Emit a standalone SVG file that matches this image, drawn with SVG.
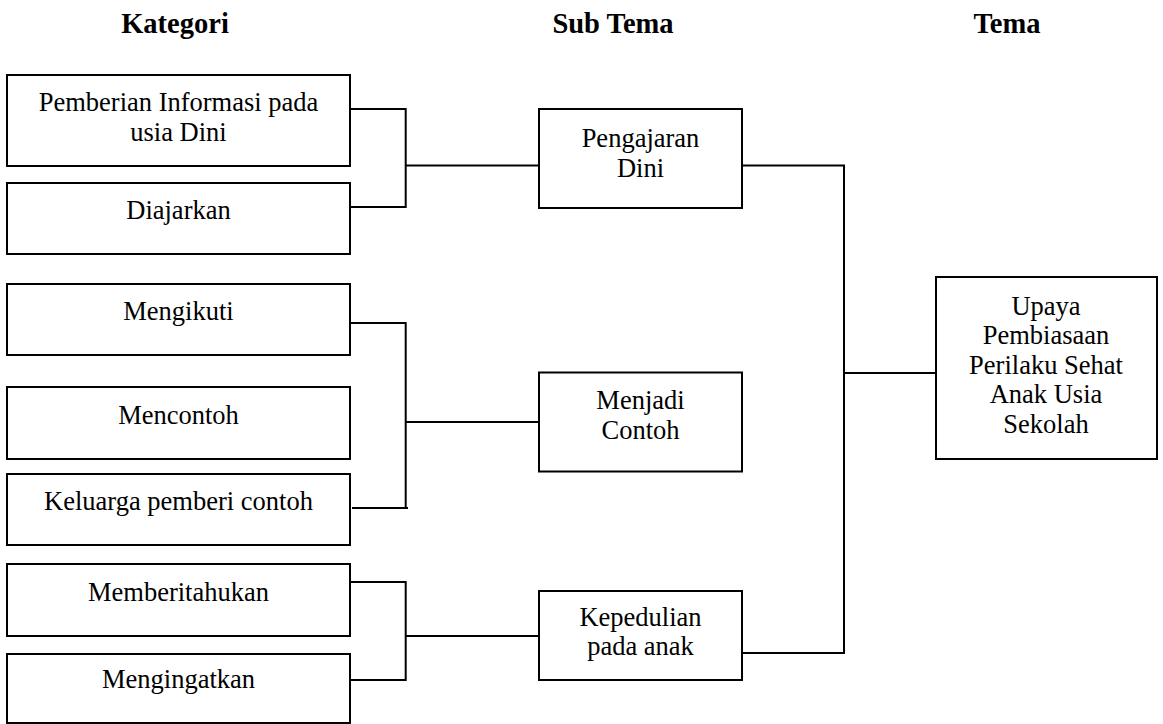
<svg xmlns="http://www.w3.org/2000/svg" width="1163" height="724" viewBox="0 0 1163 724">
<style>
.box{fill:#fff;stroke:#000;stroke-width:2}
.t{font-family:'Liberation Serif',Tinos,'Times New Roman','DejaVu Serif',serif;font-size:26.5px;fill:#000;text-anchor:middle}
.h{font-family:'Liberation Serif',Tinos,'Times New Roman','DejaVu Serif',serif;font-size:28.5px;font-weight:bold;fill:#000;text-anchor:middle}
.c{fill:none;stroke:#000;stroke-width:2}
</style>
<rect width="1163" height="724" fill="#fff"/>
<g id="headers">
<text class="h" x="175" y="33">Kategori</text>
<text class="h" x="613" y="33">Sub Tema</text>
<text class="h" x="1007" y="33">Tema</text>
</g>
<g id="connectors">
<path class="c" d="M350,109 H405.7 V207 H350 M405.7,165.5 H539"/>
<path class="c" d="M350,323 H405.7 V509 M352,508 H408 M405.7,422 H539"/>
<path class="c" d="M350,582 H405.7 V680 H350 M405.7,636 H539"/>
<path class="c" d="M742,165.5 H844 V653 H742 M844,373 H936"/>
</g>
<g id="n1"><rect class="box" x="7" y="75" width="343" height="91"/><text class="t" x="178.5" y="110.5">Pemberian Informasi pada</text><text class="t" x="178.5" y="140.5">usia Dini</text></g>
<g id="n2"><rect class="box" x="7" y="183" width="343" height="71"/><text class="t" x="178.5" y="219">Diajarkan</text></g>
<g id="n3"><rect class="box" x="7" y="284" width="343" height="71"/><text class="t" x="178.5" y="320">Mengikuti</text></g>
<g id="n4"><rect class="box" x="7" y="387" width="343" height="72"/><text class="t" x="178.5" y="424">Mencontoh</text></g>
<g id="n5"><rect class="box" x="7" y="474" width="343" height="71"/><text class="t" x="178.5" y="510">Keluarga pemberi contoh</text></g>
<g id="n6"><rect class="box" x="7" y="564" width="343" height="72"/><text class="t" x="178.5" y="601">Memberitahukan</text></g>
<g id="n7"><rect class="box" x="7" y="654" width="343" height="69"/><text class="t" x="178.5" y="688">Mengingatkan</text></g>
<g id="s1"><rect class="box" x="539" y="109" width="203" height="99"/><text class="t" x="640.5" y="146.5">Pengajaran</text><text class="t" x="640.5" y="176.5">Dini</text></g>
<g id="s2"><rect class="box" x="539" y="372.5" width="203" height="99"/><text class="t" x="640.5" y="408.5">Menjadi</text><text class="t" x="640.5" y="438.5">Contoh</text></g>
<g id="s3"><rect class="box" x="539" y="591" width="203" height="89"/><text class="t" x="640.5" y="626">Kepedulian</text><text class="t" x="640.5" y="655">pada anak</text></g>
<g id="tema"><rect class="box" x="936" y="277" width="221" height="182"/>
<text class="t" x="1046" y="314.5">Upaya</text>
<text class="t" x="1046" y="344">Pembiasaan</text>
<text class="t" x="1046" y="373.5">Perilaku Sehat</text>
<text class="t" x="1046" y="403">Anak Usia</text>
<text class="t" x="1046" y="432.5">Sekolah</text>
</g>
</svg>
